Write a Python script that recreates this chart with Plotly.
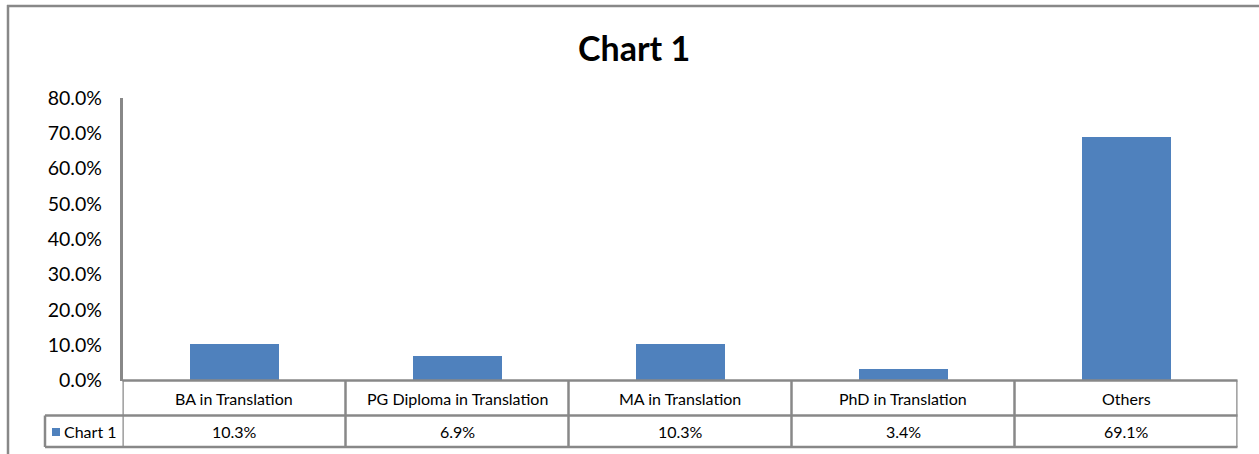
import plotly.graph_objects as go

categories = ["BA in Translation", "PG Diploma in Translation", "MA in Translation",
              "PhD in Translation", "Others"]
values = [0.103, 0.069, 0.103, 0.034, 0.691]
series_name = "Chart 1"
title_text = "Chart 1"
y_ticks = [0, 0.1, 0.2, 0.3, 0.4, 0.5, 0.6, 0.7, 0.8]

W, H = 1259, 454
FONT = "Lato"
BLUE = "#4F81BD"
GRID = "#888888"

def px(x):
    return x / W

def py(y):
    return 1 - y / H

x_idx = list(range(len(categories)))

fig = go.Figure()
fig.add_trace(go.Bar(
    x=x_idx, y=values, marker=dict(color=BLUE, line=dict(width=0)),
    width=0.395, name=series_name, showlegend=False, hoverinfo="skip",
))

y_top_px, y0_px = 97.7, 380.5
row1_bot, row2_bot = 415.5, 447.0
x_left_axis, x_right = 122.5, 1237.5
x_leg_left = 45.0

shapes = []
line = dict(color=GRID, width=2.5)
# outer chart border (top and left)
shapes.append(dict(type="line", xref="paper", yref="paper", x0=px(7), x1=px(W),
                   y0=py(6), y1=py(6), line=dict(color=GRID, width=2.5)))
shapes.append(dict(type="line", xref="paper", yref="paper", x0=px(8), x1=px(8),
                   y0=py(5), y1=py(H), line=dict(color=GRID, width=2.5)))
# table horizontal lines
shapes.append(dict(type="line", xref="paper", yref="paper", x0=px(x_left_axis), x1=px(x_right),
                   y0=py(y0_px), y1=py(y0_px), line=line))
shapes.append(dict(type="line", xref="paper", yref="paper", x0=px(x_leg_left), x1=px(x_right),
                   y0=py(row1_bot), y1=py(row1_bot), line=line))
shapes.append(dict(type="line", xref="paper", yref="paper", x0=px(x_leg_left), x1=px(x_right),
                   y0=py(row2_bot), y1=py(row2_bot), line=line))
# legend cell left border
shapes.append(dict(type="line", xref="paper", yref="paper", x0=px(x_leg_left), x1=px(x_leg_left),
                   y0=py(row1_bot), y1=py(row2_bot), line=line))
# vertical separators at category boundaries
for i in range(len(categories) + 1):
    shapes.append(dict(type="line", xref="x", yref="paper", x0=i - 0.5, x1=i - 0.5,
                       y0=py(y0_px), y1=py(row2_bot), line=line))

annotations = [dict(text="<b>" + title_text + "</b>", x=px(634), y=py(47), xref="paper", yref="paper",
                    showarrow=False, font=dict(family=FONT, size=34, color="black"),
                    xanchor="center", yanchor="middle")]
for i, (c, v) in enumerate(zip(categories, values)):
    annotations.append(dict(text=c, x=i, y=py((y0_px + row1_bot) / 2), xref="x", yref="paper",
                            showarrow=False, font=dict(family=FONT, size=16, color="black"),
                            xanchor="center", yanchor="middle"))
    annotations.append(dict(text=f"{v*100:.1f}%", x=i, y=py((row1_bot + row2_bot) / 2), xref="x",
                            yref="paper", showarrow=False,
                            font=dict(family=FONT, size=16, color="black"),
                            xanchor="center", yanchor="middle"))
# legend key in table
shapes.append(dict(type="rect", xref="paper", yref="paper", x0=px(52), x1=px(60),
                   y0=py(428), y1=py(436), fillcolor=BLUE, line=dict(width=0)))
annotations.append(dict(text=series_name, x=px(62), y=py((row1_bot + row2_bot) / 2), xref="paper",
                        yref="paper", showarrow=False,
                        font=dict(family=FONT, size=16, color="black"),
                        xanchor="left", yanchor="middle"))

fig.update_layout(
    width=W, height=H, autosize=False,
    margin=dict(l=0, r=0, t=0, b=0, pad=0, autoexpand=False),
    paper_bgcolor="white", plot_bgcolor="white",
    xaxis=dict(domain=[px(x_left_axis), px(x_right)], range=[-0.5, len(categories) - 0.5],
               showticklabels=False, showgrid=False, zeroline=False, showline=False, ticks="",
               automargin=False),
    yaxis=dict(domain=[py(y0_px), py(y_top_px)], range=[0, 0.8], tickvals=y_ticks,
               tickformat=".1%", showgrid=False, zeroline=False, showline=True,
               linecolor=GRID, linewidth=2.5, ticks="", ticklabelstandoff=14,
               tickfont=dict(family=FONT, size=19.5, color="black"), automargin=False),
    shapes=shapes, annotations=annotations, showlegend=False,
    bargap=0,
)

fig.write_html("out.html", config={"displayModeBar": False})
